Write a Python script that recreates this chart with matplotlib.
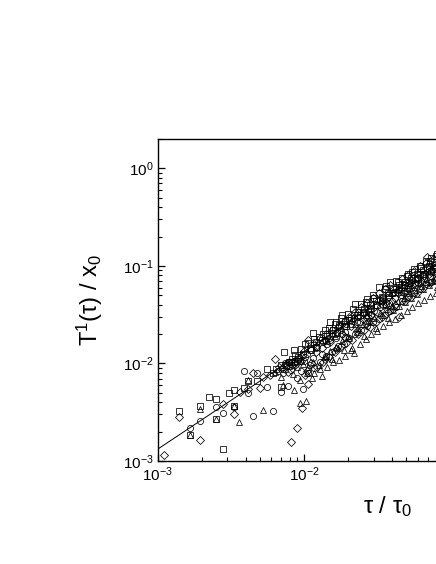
# Log-log scatter of scaled T^1(tau) against tau, four marker series
import numpy as np
import matplotlib
matplotlib.use("Agg")
import matplotlib.pyplot as plt

plt.rcParams["font.family"] = ["Liberation Sans", "DejaVu Sans"]
plt.rcParams["mathtext.fontset"] = "custom"
plt.rcParams["mathtext.rm"] = "Liberation Sans"
plt.rcParams["mathtext.it"] = "Liberation Sans"
plt.rcParams["mathtext.bf"] = "Liberation Sans"

# All values are decades (log10)
square_x = [-2.855, -2.778, -2.71, -2.65, -2.60, -2.60, -2.555, -2.514, -2.478, -2.476, -2.41, -2.38, -2.319, -2.255, -2.21, -2.157, -2.136,
            -2.10, -2.07, -2.04, -2.02, -1.99, -1.96, -1.94, -1.92, -1.90, -1.88, -1.86, -1.84, -1.82, -1.80, -1.78, -1.76, -1.74, -1.72,
            -1.70, -1.68, -1.65, -1.63, -1.61, -1.59, -1.57, -1.55, -1.53, -1.51, -1.49, -1.47, -1.45, -1.43, -1.41, -1.39, -1.37, -1.35,
            -1.33, -1.31, -1.29, -1.27, -1.25, -1.23, -1.21, -1.19, -1.17, -1.15, -1.13, -1.11, -1.09,
            -2.09, -2.06, -2.01, -1.97, -1.93, -1.915, -1.87, -1.85, -1.83, -1.79, -1.775, -1.75, -1.73, -1.69, -1.665, -1.64, -1.60, -1.58,
            -1.56, -1.52, -1.50, -1.46, -1.44, -1.42, -1.38, -1.36, -1.34, -1.30, -1.28, -1.26, -1.22, -1.20, -1.18, -1.14, -1.12, -1.10,
            -1.95, -1.81, -1.71, -1.62, -1.54, -1.48, -1.40, -1.32, -1.24, -1.16, -1.08,
            -2.19, -2.16, -2.12, -2.08, -2.05, -1.37, -1.29, -1.21, -1.13]
square_y = [-2.484, -2.733, -2.433, -2.341, -2.361, -2.572, -2.874, -2.303, -2.436, -2.272, -2.254, -2.176, -2.176, -2.056, -2.10, -2.244, -1.879,
            -1.98, -1.86, -1.93, -1.85, -1.80, -1.84, -1.69, -1.78, -1.73, -1.76, -1.66, -1.72, -1.58, -1.66, -1.58, -1.61, -1.50, -1.56,
            -1.49, -1.53, -1.39, -1.47, -1.39, -1.44, -1.34, -1.40, -1.30, -1.36, -1.22, -1.32, -1.24, -1.28, -1.17, -1.24, -1.15, -1.20,
            -1.12, -1.16, -1.08, -1.12, -1.03, -1.08, -1.00, -1.04, -0.95, -1.00, -0.92, -0.96, -0.88,
            -1.98, -1.91, -1.90, -1.79, -1.75, -1.83, -1.70, -1.77, -1.64, -1.60, -1.69, -1.53, -1.62, -1.55, -1.44, -1.50, -1.47, -1.37,
            -1.47, -1.33, -1.40, -1.33, -1.21, -1.30, -1.27, -1.16, -1.22, -1.10, -1.18, -1.06, -1.13, -1.02, -1.08, -0.95, -1.03, -0.90,
            -1.86, -1.69, -1.62, -1.50, -1.43, -1.35, -1.28, -1.20, -1.12, -1.02, -0.95,
            -2.06, -2.02, -2.02, -1.95, -1.97, -1.24, -1.20, -1.09, -1.05]

circle_x = [-2.778, -2.71, -2.60, -2.555, -2.476, -2.41, -2.38, -2.348, -2.321, -2.255, -2.21, -2.159, -2.107, -2.05, -2.023,
            -2.01, -1.99, -1.97, -1.95, -1.93, -1.91, -1.89, -1.87, -1.85, -1.83, -1.81, -1.79, -1.77, -1.75, -1.73, -1.71, -1.69,
            -1.67, -1.65, -1.63, -1.61, -1.59, -1.57, -1.55, -1.53, -1.51, -1.49, -1.47, -1.45, -1.43, -1.41, -1.39, -1.37, -1.35,
            -1.33, -1.31, -1.29, -1.27, -1.25, -1.23, -1.21, -1.19, -1.17, -1.15, -1.13, -1.11, -1.09,
            -2.13, -2.08, -2.04, -1.98, -1.96, -1.92, -1.88, -1.86, -1.82, -1.78, -1.76, -1.72, -1.68, -1.66, -1.62, -1.58, -1.56, -1.52,
            -1.48, -1.46, -1.42, -1.38, -1.36, -1.32, -1.28, -1.26, -1.22, -1.18, -1.16, -1.12, -1.10, -1.08,
            -1.94, -1.84, -1.74, -1.64, -1.54, -1.44, -1.34, -1.24, -1.14,
            -2.18, -2.14, -2.11, -2.09, -2.06, -2.03, -2.00, -1.30, -1.20, -1.10]
circle_y = [-2.658, -2.587, -2.446, -2.511, -2.443, -2.077, -2.306, -2.535, -2.097, -2.238, -2.484, -2.289, -2.231, -2.146, -2.074,
            -2.26, -1.93, -2.10, -1.86, -2.05, -1.83, -1.98, -1.78, -1.92, -1.74, -1.88, -1.70, -1.82, -1.66, -1.80, -1.60, -1.74,
            -1.56, -1.70, -1.52, -1.66, -1.48, -1.62, -1.44, -1.58, -1.40, -1.54, -1.36, -1.50, -1.32, -1.46, -1.28, -1.42, -1.24,
            -1.36, -1.20, -1.32, -1.16, -1.28, -1.12, -1.24, -1.08, -1.19, -1.03, -1.16, -0.99, -1.12,
            -2.00, -2.02, -1.95, -1.90, -2.02, -1.84, -1.90, -1.76, -1.76, -1.74, -1.62, -1.68, -1.60, -1.53, -1.57, -1.52, -1.44, -1.46,
            -1.42, -1.34, -1.38, -1.33, -1.25, -1.26, -1.24, -1.14, -1.18, -1.12, -1.06, -1.06, -1.01, -1.03,
            -1.94, -1.80, -1.70, -1.58, -1.50, -1.40, -1.30, -1.20, -1.10,
            -2.08, -2.10, -1.99, -2.07, -1.98, -1.97, -1.97, -1.26, -1.15, -1.07]

triangle_x = [-2.778, -2.71, -2.60, -2.476, -2.442, -2.382, -2.278, -2.157, -2.143, -2.077, -2.066, -2.027, -1.986, -1.947,
              -1.93, -1.90, -1.88, -1.86, -1.84, -1.82, -1.80, -1.78, -1.76, -1.74, -1.72, -1.70, -1.68, -1.66, -1.64, -1.62,
              -1.60, -1.58, -1.56, -1.54, -1.52, -1.50, -1.48, -1.46, -1.44, -1.42, -1.40, -1.38, -1.36, -1.34, -1.32, -1.30,
              -1.28, -1.26, -1.24, -1.22, -1.20, -1.18, -1.16, -1.14, -1.12, -1.10, -1.08,
              -2.03, -1.98, -1.94, -1.89, -1.85, -1.81, -1.77, -1.73, -1.69, -1.67, -1.63, -1.59, -1.55, -1.51, -1.47, -1.43,
              -1.39, -1.35, -1.31, -1.27, -1.23, -1.19, -1.15, -1.11, -1.09, -1.79, -1.65, -1.57, -1.45, -1.33, -1.21,
              -2.20, -2.13, -2.10, -2.05, -2.01, -1.97, -1.29, -1.17]
triangle_y = [-2.733, -2.467, -2.572, -2.436, -2.597, -2.169, -2.474, -2.135, -2.221, -2.108, -2.272, -2.405, -2.385, -2.152,
              -2.10, -2.02, -2.13, -1.93, -2.04, -1.87, -1.99, -1.83, -1.96, -1.77, -1.92, -1.72, -1.86, -1.89, -1.68, -1.80,
              -1.60, -1.75, -1.56, -1.70, -1.53, -1.67, -1.48, -1.62, -1.44, -1.58, -1.41, -1.54, -1.36, -1.50, -1.33, -1.46,
              -1.28, -1.42, -1.25, -1.38, -1.21, -1.35, -1.17, -1.31, -1.14, -1.28, -1.11,
              -2.17, -2.10, -1.99, -2.06, -1.92, -1.95, -1.84, -1.86, -1.74, -1.84, -1.64, -1.72, -1.58, -1.64, -1.50, -1.53,
              -1.45, -1.41, -1.37, -1.33, -1.29, -1.24, -1.20, -1.15, -1.22, -1.72, -1.60, -1.50, -1.39, -1.27, -1.16,
              -2.09, -2.06, -2.03, -2.04, -2.01, -2.04, -1.23, -1.13]

diamond_x = [-2.954, -2.855, -2.71, -2.555, -2.476, -2.437, -2.38, -2.35, -2.30, -2.278, -2.198, -2.15, -2.091, -2.07, -2.05, -2.012, -1.975,
             -1.97, -1.95, -1.93, -1.91, -1.89, -1.87, -1.85, -1.83, -1.81, -1.79, -1.77, -1.75, -1.73, -1.71, -1.69, -1.67, -1.65,
             -1.63, -1.61, -1.59, -1.57, -1.55, -1.53, -1.51, -1.49, -1.47, -1.45, -1.43, -1.41, -1.39, -1.35, -1.33, -1.31, -1.29,
             -1.27, -1.25, -1.23, -1.21, -1.19, -1.17, -1.16, -1.14, -1.12, -1.10, -1.08,
             -2.11, -2.03, -1.98, -1.92, -1.88, -1.86, -1.82, -1.78, -1.74, -1.72, -1.68, -1.64, -1.60, -1.58, -1.54, -1.50, -1.46, -1.44,
             -1.40, -1.36, -1.32, -1.28, -1.24, -1.22, -1.18, -1.13, -1.11, -1.09, -1.56, -1.38,
             -2.23, -2.17, -2.13, -2.10, -2.06, -2.02, -1.99, -2.00, -1.26, -1.15]
diamond_y = [-2.942, -2.546, -2.785, -2.415, -2.521, -2.289, -2.265, -2.10, -2.248, -2.135, -1.957, -2.05, -2.802, -2.00, -2.665, -2.459, -2.213,
             -1.76, -2.00, -1.80, -2.04, -1.74, -1.98, -1.70, -1.93, -1.66, -1.88, -1.63, -1.82, -1.58, -1.79, -1.52, -1.76, -1.47,
             -1.70, -1.42, -1.66, -1.38, -1.63, -1.33, -1.58, -1.28, -1.52, -1.24, -1.47, -1.20, -1.44, -1.52, -1.13, -1.36, -1.09,
             -1.32, -1.05, -1.28, -1.00, -1.23, -0.97, -0.91, -1.18, -0.93, -1.14, -0.90,
             -2.09, -1.94, -2.08, -1.88, -1.84, -1.95, -1.78, -1.85, -1.70, -1.73, -1.62, -1.67, -1.54, -1.60, -1.50, -1.47, -1.40, -1.37,
             -1.36, -1.28, -1.28, -1.22, -1.18, -1.12, -1.10, -1.06, -1.02, -1.01, -1.52, -1.40,
             -2.12, -2.04, -2.02, -1.98, -2.02, -1.97, -2.12, -1.87, -1.20, -1.08]

line_x = [-3.0, 0.0]
line_y = [-2.88, 0.12]

x_ticks = [1e-3, 1e-2, 1e-1, 1e0]
x_tick_labels = [r"$\mathdefault{10^{-3}}$", r"$\mathdefault{10^{-2}}$", "", ""]
y_ticks = [1e-3, 1e-2, 1e-1, 1e0]
y_tick_labels = [r"$\mathdefault{10^{-3}}$", r"$\mathdefault{10^{-2}}$", r"$\mathdefault{10^{-1}}$", r"$\mathdefault{10^{0}}$"]

W, H = 436, 564
fig = plt.figure(figsize=(W / 100, H / 100), dpi=100)
# the right part of the axes runs off the page, as in the original
left, right, top, bottom = 157.5, 597.0, 139.0, 461.0
ax = fig.add_axes([left / W, 1 - bottom / H, (right - left) / W, (bottom - top) / H])
ax.set_xscale("log")
ax.set_yscale("log")
ax.set_xlim(1e-3, 1)
ax.set_ylim(1e-3, 2.0)

style = dict(linestyle="none", mfc="none", mec="black", mew=0.55)
ax.plot(10 ** np.array(line_x), 10 ** np.array(line_y), color="black", lw=0.7)
ax.plot(10 ** np.array(circle_x), 10 ** np.array(circle_y), marker="o", ms=4.4, **style)
ax.plot(10 ** np.array(square_x), 10 ** np.array(square_y), marker="s", ms=3.9, **style)
ax.plot(10 ** np.array(triangle_x), 10 ** np.array(triangle_y), marker="^", ms=4.4, **style)
ax.plot(10 ** np.array(diamond_x), 10 ** np.array(diamond_y), marker="D", ms=3.6, **style)

ax.set_xticks(x_ticks)
ax.set_xticklabels(x_tick_labels)
ax.set_yticks(y_ticks)
ax.set_yticklabels(y_tick_labels)
ax.tick_params(which="major", direction="in", length=5, width=0.9, labelsize=11, top=False, right=False, pad=3)
ax.tick_params(which="minor", direction="in", length=3, width=0.8, top=False, right=False)
for s in ax.spines.values():
    s.set_linewidth(1.0)

fig.text(90 / W, 1 - 300 / H, r"$\mathdefault{T^1(\tau)\ /\ x_0}$", rotation=90, fontsize=17, ha="center", va="center")
fig.text(388 / W, 1 - 507 / H, r"$\mathdefault{\tau\ /\ \tau_0}$", fontsize=17, ha="center", va="center")

fig.savefig("out.png", dpi=100)
